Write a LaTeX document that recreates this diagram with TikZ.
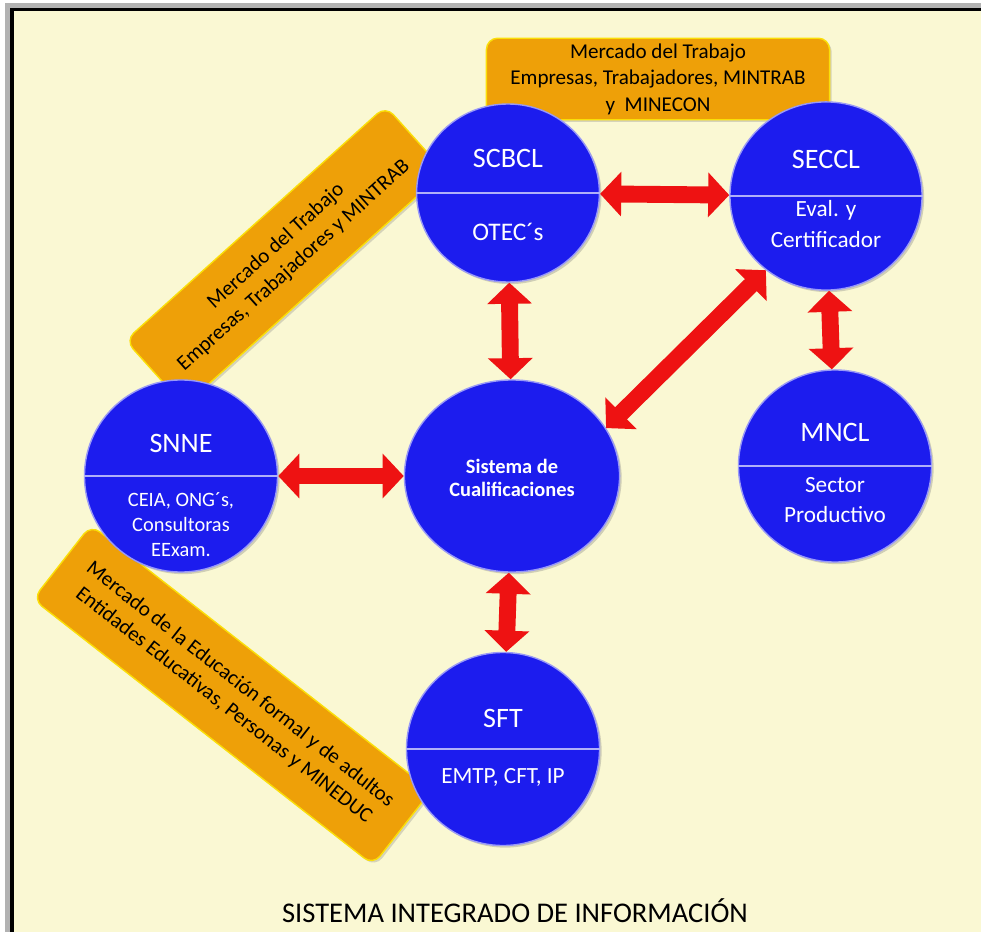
\documentclass[tikz,border=0pt]{standalone}
\usepackage{fontspec}
\setmainfont{Carlito}
\usepackage{xcolor}
\usepackage{tikz}
\usetikzlibrary{shapes.geometric, arrows.meta, shadows}

\definecolor{fondo}{RGB}{250,248,211}
\definecolor{azul}{RGB}{28,28,238}
\definecolor{naranja}{RGB}{238,160,8}
\definecolor{rojo}{RGB}{238,18,18}

\begin{document}
\begin{tikzpicture}[x=0.025cm, y=-0.025cm,
    circ/.style={ellipse, inner sep=0pt, fill=azul, draw=white!55!azul, line width=1pt,
                 drop shadow={opacity=0.35, shadow xshift=1.5pt, shadow yshift=-1.5pt}},
    divider/.style={draw=white!65!azul, line width=0.8pt},
    upper/.style={text=white, font=\fontsize{20}{24}\selectfont},
    lower/.style={text=white, align=center},
    band/.style={rectangle, rounded corners=8pt, fill=naranja, draw=yellow!75!naranja,
                 line width=1pt, align=center, font=\fontsize{15}{18.8}\selectfont,
                 drop shadow={opacity=0.3, shadow xshift=1.5pt, shadow yshift=-1.5pt}},
    biarrow/.style={draw=rojo, line width=12pt,
                    {Triangle[length=15pt, width=31pt]}-{Triangle[length=15pt, width=31pt]}},
]
\useasboundingbox (0,0) rectangle (981,932);
\clip (0,0) rectangle (981,932);
\fill[white] (0,0) rectangle (981,932);
\fill[black!30] (5,3) rectangle (995,945);
\draw[fill=fondo, line width=2.2pt] (12,9.5) rectangle (990,945);

\node[band, minimum width=244pt, minimum height=58pt] (trabajo) at (658,79)
    {Mercado del Trabajo\\Empresas, Trabajadores, MINTRAB\\y\ \ MINECON};
\node[band, rotate=42, minimum width=249pt, minimum height=62.6pt] (trabajoizq) at (285,256)
    {Mercado del Trabajo\\Empresas, Trabajadores y MINTRAB};
\node[band, rotate=-38, minimum width=307pt, minimum height=67pt] (educacion) at (232,695)
    {Mercado de la Educación formal y de adultos\\Entidades Educativas, Personas y MINEDUC};

\node[circ, minimum width=130pt, minimum height=126.6pt] (scbcl) at (508,193) {};
\node[circ, minimum width=136.6pt, minimum height=133.8pt] (seccl) at (826,196) {};
\node[circ, minimum width=137.3pt, minimum height=136.6pt] (snne) at (181,476) {};
\node[circ, minimum width=153pt, minimum height=136.6pt] (sc) at (512,476) {};
\node[circ, minimum width=137.3pt, minimum height=136.6pt] (mncl) at (835,466) {};
\node[circ, minimum width=137.3pt, minimum height=137.3pt] (sft) at (503,749) {};

\draw[divider] (scbcl.west) -- (scbcl.east);
\draw[divider] (seccl.west) -- (seccl.east);
\draw[divider] (snne.west) -- (snne.east);
\draw[divider] (mncl.west) -- (mncl.east);
\draw[divider] (sft.west) -- (sft.east);

\node[upper] (scbclT) at (508,158) {SCBCL};
\node[lower, font=\fontsize{18}{22}\selectfont] (scbclB) at (508,232) {OTEC´s};
\node[upper] (secclT) at (826,159) {SECCL};
\node[lower, font=\fontsize{16.5}{22}\selectfont] (secclB) at (826,224) {Eval. y\\Certificador};
\node[upper] (snneT) at (181,443) {SNNE};
\node[lower, font=\fontsize{14.5}{17.8}\selectfont] (snneB) at (181,525) {CEIA, ONG´s,\\Consultoras\\EExam.};
\node[upper] (mnclT) at (835,432) {MNCL};
\node[lower, font=\fontsize{16.5}{21.5}\selectfont] (mnclB) at (835,500) {Sector\\Productivo};
\node[upper] (sftT) at (503,718) {SFT};
\node[lower, font=\fontsize{16.5}{20}\selectfont] (sftB) at (503,777) {EMTP, CFT, IP};
\node[lower, font=\bfseries\fontsize{14.5}{16.4}\selectfont] (scT) at (512,478) {Sistema de\\Cualificaciones};

\draw[biarrow] (scbcl) -- (seccl);
\draw[biarrow] (scbcl) -- (sc);
\draw[biarrow] (seccl.231) -- (sc.27);
\draw[biarrow] (snne) -- (sc);
\draw[biarrow] (seccl) -- (mncl);
\draw[biarrow] (sc) -- (sft);

\node[font=\fontsize{20.3}{24}\selectfont] (titulo) at (515,911) {SISTEMA INTEGRADO DE INFORMACIÓN};
\end{tikzpicture}
\end{document}
